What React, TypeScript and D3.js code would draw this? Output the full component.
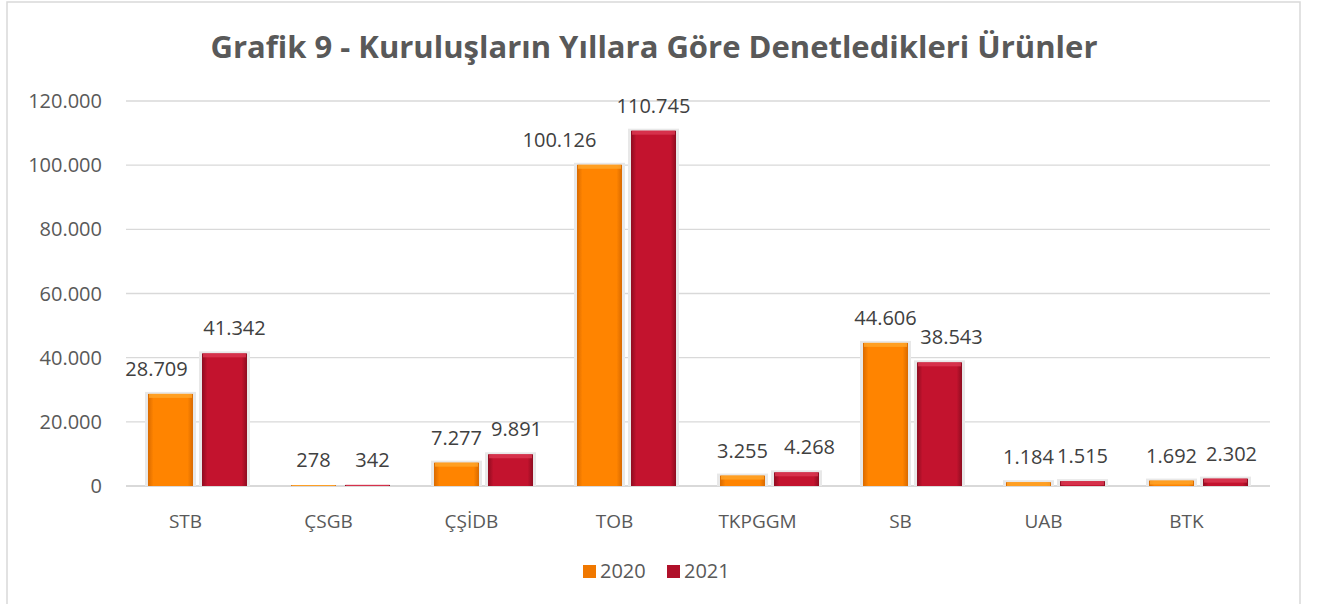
import React, { useEffect, useRef } from "react";
import * as d3 from "d3";

const categories = ["STB", "ÇSGB", "ÇŞİDB", "TOB", "TKPGGM", "SB", "UAB", "BTK"];
const years = ["2020", "2021"];
const values2020 = [28709, 278, 7277, 100126, 3255, 44606, 1184, 1692];
const values2021 = [41342, 342, 9891, 110745, 4268, 38543, 1515, 2302];
const yTicks = [0, 20000, 40000, 60000, 80000, 100000, 120000];
// hand nudges of a few data labels, like the moved labels in the original
const labelNudge2020 = [-14, 0, 0, -40, 0, 0, 0, 0];
const labelNudge2021 = [10, 5, 6, 0, 13, 12, 0, 6];

const W = 1318;
const H = 604;
const font = "'Open Sans', 'Noto Sans', sans-serif";
const textColor = "#595959";

function fmt(v: number) {
  return d3.format(",")(v).replace(/,/g, ".");
}

export default function App() {
  const ref = useRef<SVGSVGElement | null>(null);

  useEffect(() => {
    const svg = d3.select(ref.current);
    svg.selectAll("*").remove();

    const left = 126, right = 1270, top = 101, bottom = 486;

    const x0 = d3.scaleBand().domain(categories).range([left, right]).paddingInner(0.3077).paddingOuter(0.1538);
    const x1 = d3.scaleBand().domain(years).range([0, x0.bandwidth()]).paddingInner(0.167);
    const y = d3.scaleLinear().domain([0, 120000]).range([bottom, top]);

    const defs = svg.append("defs");
    const grad = (id: string, edge: string, mid: string) => {
      const g = defs.append("linearGradient").attr("id", id).attr("x1", 0).attr("x2", 1).attr("y1", 0).attr("y2", 0);
      g.append("stop").attr("offset", "0%").attr("stop-color", edge);
      g.append("stop").attr("offset", "12%").attr("stop-color", mid);
      g.append("stop").attr("offset", "88%").attr("stop-color", mid);
      g.append("stop").attr("offset", "100%").attr("stop-color", edge);
    };
    grad("g2020", "#D96A00", "#FF8400");
    grad("g2021", "#8E0C20", "#C3132E");
    const colors: Record<string, string> = { "2020": "url(#g2020)", "2021": "url(#g2021)" };
    const tops: Record<string, string> = { "2020": "#FFA62B", "2021": "#DB3A52" };
    const legendFill: Record<string, string> = { "2020": "#F07800", "2021": "#B0102A" };

    // frame
    svg.append("rect")
      .attr("x", 7).attr("y", 2).attr("width", 1293).attr("height", 640)
      .attr("fill", "#fff").attr("stroke", "#D9D9D9").attr("stroke-width", 1.5);

    // title
    svg.append("text")
      .attr("x", 654).attr("y", 58)
      .attr("text-anchor", "middle")
      .attr("font-family", font).attr("font-weight", 700).attr("font-size", 31)
      .attr("fill", textColor)
      .text("Grafik 9 - Kuruluşların Yıllara Göre Denetledikleri Ürünler");

    // grid + y labels
    const grid = svg.append("g");
    yTicks.forEach(t => {
      grid.append("line")
        .attr("x1", left).attr("x2", right)
        .attr("y1", y(t)).attr("y2", y(t))
        .attr("stroke", "#D9D9D9").attr("stroke-width", t === 0 ? 2 : 1.3);
      grid.append("text")
        .attr("x", 102).attr("y", y(t)).attr("dy", "0.35em")
        .attr("text-anchor", "end")
        .attr("font-family", font).attr("font-size", 20)
        .attr("fill", textColor)
        .text(fmt(t));
    });

    // bars
    const series = [values2020, values2021];
    const nudges = [labelNudge2020, labelNudge2021];
    years.forEach((yr, si) => {
      const g = svg.append("g");
      categories.forEach((c, i) => {
        const v = series[si][i];
        const bx = (x0(c) as number) + (x1(yr) as number);
        const bw = x1.bandwidth();
        const by = y(v);
        const bh = bottom - by;
        // soft shadow rim
        if (bh > 3) {
          g.append("rect")
            .attr("x", bx - 3).attr("y", by - 2).attr("width", bw + 6).attr("height", bh + 2)
            .attr("fill", "#E8E8E8");
        }
        g.append("rect")
          .attr("x", bx).attr("y", by).attr("width", bw).attr("height", bh)
          .attr("fill", colors[yr]);
        g.append("rect")
          .attr("x", bx + 1).attr("y", by).attr("width", bw - 2).attr("height", Math.min(4, bh))
          .attr("fill", tops[yr]).attr("opacity", 0.8);
        g.append("text")
          .attr("x", bx + bw / 2 + nudges[si][i]).attr("y", by - 18)
          .attr("text-anchor", "middle")
          .attr("font-family", font).attr("font-size", 20)
          .attr("fill", "#404040")
          .text(fmt(v));
      });
    });

    // category labels
    categories.forEach(c => {
      svg.append("text")
        .attr("x", (x0(c) as number) + x0.bandwidth() / 2 - 12).attr("y", 528)
        .attr("text-anchor", "middle")
        .attr("font-family", font).attr("font-size", 19)
        .attr("fill", textColor)
        .text(c);
    });

    // legend
    const lg = svg.append("g");
    const lx = [583, 667];
    years.forEach((yr, i) => {
      lg.append("rect")
        .attr("x", lx[i]).attr("y", 565).attr("width", 13).attr("height", 13)
        .attr("fill", legendFill[yr]);
      lg.append("text")
        .attr("x", lx[i] + 17).attr("y", 578)
        .attr("font-family", font).attr("font-size", 20)
        .attr("fill", textColor)
        .text(yr);
    });
  }, []);

  return (
    <svg ref={ref} width={W} height={H}
      style={{ position: "absolute", left: 0, top: 0, background: "#fff" }} />
  );
}
